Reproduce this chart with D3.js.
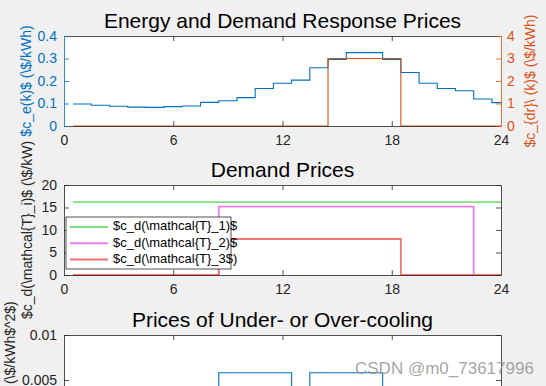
<!DOCTYPE html>
<html>
<head>
<meta charset="utf-8">
<script src="https://cdn.jsdelivr.net/npm/d3@7"></script>
<style>
  html, body { margin: 0; padding: 0; background: #f0f0f0; overflow: hidden; }
  svg { display: block; font-family: "Liberation Sans", Arial, sans-serif; }
</style>
</head>
<body>
<div id="vis"></div>
<script>
// data (hourly stairs, each step starts at the half hour)
const HOURS = [0.5, 1.5, 2.5, 3.5, 4.5, 5.5, 6.5, 7.5, 8.5, 9.5, 10.5, 11.5,
               12.5, 13.5, 14.5, 15.5, 16.5, 17.5, 18.5, 19.5, 20.5, 21.5, 22.5, 23.5];
const X_TICKS = [0, 6, 12, 18, 24];

const ENERGY_PRICE = [0.098, 0.092, 0.088, 0.084, 0.083, 0.086, 0.089, 0.105, 0.112, 0.126, 0.167, 0.190,
                      0.204, 0.259, 0.296, 0.326, 0.326, 0.296, 0.238, 0.190, 0.167, 0.157, 0.120, 0.104];
const DR_PRICE = [0, 0, 0, 0, 0, 0, 0, 0, 0, 0, 0, 0,
                  0, 0, 3, 3, 3, 3, 0, 0, 0, 0, 0, 0];

const DEMAND_T1 = [16.2, 16.2, 16.2, 16.2, 16.2, 16.2, 16.2, 16.2, 16.2, 16.2, 16.2, 16.2,
                   16.2, 16.2, 16.2, 16.2, 16.2, 16.2, 16.2, 16.2, 16.2, 16.2, 16.2, 16.2];
const DEMAND_T2 = [0, 0, 0, 0, 0, 0, 0, 0, 15.2, 15.2, 15.2, 15.2,
                   15.2, 15.2, 15.2, 15.2, 15.2, 15.2, 15.2, 15.2, 15.2, 15.2, 0, 0];
const DEMAND_T3 = [0, 0, 0, 0, 0, 0, 0, 0, 8.0, 8.0, 8.0, 8.0,
                   8.0, 8.0, 8.0, 8.0, 8.0, 8.0, 0, 0, 0, 0, 0, 0];

const COOLING_PRICE = [0, 0, 0, 0, 0, 0, 0, 0, 0.0058, 0.0058, 0.0058, 0.0058,
                       0, 0.0058, 0.0058, 0.0058, 0.0058, 0, 0, 0, 0, 0, 0, 0];

const TOP_LEFT_TICKS = [0, 0.1, 0.2, 0.3, 0.4];
const TOP_RIGHT_TICKS = [0, 1, 2, 3, 4];
const MID_TICKS = [0, 5, 10, 15, 20];
const BOTTOM_TICKS = [0.005, 0.01];   // the 0 tick falls below the visible window

const TITLES = ["Energy and Demand Response Prices", "Demand Prices", "Prices of Under- or Over-cooling"];
const Y_LABELS = ["$c_e(k)$ (\\$/kWh)", "$c_d(\\mathcal{T}_i)$ (\\$/kW)", "$c_{uc}(k)$ (\\$/kWh$^2$)"];
const Y2_LABEL = "$c_{dr}\\ (k)$ (\\$/kWh)";
const LEGEND_LABELS = ["$c_d(\\mathcal{T}_1)$", "$c_d(\\mathcal{T}_2)$", "$c_d(\\mathcal{T}_3$)"];

// layout
const FRAME_WIDTH = 546;
const FRAME_HEIGHT = 386;
const PLOT_LEFT = 64;
const PLOT_RIGHT = 501;
const PLOT_H = 90;
const PANEL_TOPS = [36, 185, 335];

const BLUE = "#0072BD";
const ORANGE = "#D95319";
const AXIS_COLOR = "#262626";
const DEMAND_COLORS = ["#7ee07e", "#ea80ea", "#f07272"];

const SVG = d3.select("#vis")
  .append("svg")
    .attr("width", FRAME_WIDTH)
    .attr("height", FRAME_HEIGHT);

SVG.append("rect")
  .attr("width", FRAME_WIDTH)
  .attr("height", FRAME_HEIGHT)
  .attr("fill", "#f0f0f0");

const X_SCALE = d3.scaleLinear()
  .domain([0, 24])
  .range([PLOT_LEFT, PLOT_RIGHT]);

function stairs(vals) {
  const pts = HOURS.map((h, i) => [h, vals[i]]);
  pts.push([24, vals[vals.length - 1]]);
  return pts;
}

function styleAxis(g, color, textColor) {
  g.selectAll(".domain").attr("stroke", color).attr("stroke-width", 0.8);
  g.selectAll(".tick line").attr("stroke", color).attr("stroke-width", 0.8);
  g.selectAll(".tick text")
    .attr("fill", textColor)
    .attr("font-size", "14px")
    .attr("font-family", "Liberation Sans, Arial, sans-serif");
}

// draws one panel frame with x axes; returns the y scale and group
function panel(idx, yDomain, yTicks, leftColor, labelX, showXLabels) {
  const top = PANEL_TOPS[idx];
  const y = d3.scaleLinear().domain(yDomain).range([top + PLOT_H, top]);
  const g = SVG.append("g");

  g.append("rect")
    .attr("x", PLOT_LEFT)
    .attr("y", top)
    .attr("width", PLOT_RIGHT - PLOT_LEFT)
    .attr("height", PLOT_H)
    .attr("fill", "white");

  const lines = g.append("g");

  // x axes, ticks inward
  const xAxis = d3.axisBottom(X_SCALE).tickValues(X_TICKS).tickSize(-5).tickSizeOuter(0).tickPadding(9);
  if (!showXLabels) xAxis.tickFormat("");
  const xb = g.append("g")
    .attr("transform", "translate(0," + (top + PLOT_H) + ")")
    .call(xAxis);
  styleAxis(xb, AXIS_COLOR, AXIS_COLOR);
  const xt = g.append("g")
    .attr("transform", "translate(0," + top + ")")
    .call(d3.axisTop(X_SCALE).tickValues(X_TICKS).tickSize(-5).tickSizeOuter(0).tickFormat(""));
  styleAxis(xt, AXIS_COLOR, AXIS_COLOR);
  xt.selectAll(".tick").filter(d => d === 0 || d === 24).remove();
  xb.selectAll(".tick line").filter(d => d === 0 || d === 24).remove();

  // left axis
  const yl = g.append("g")
    .attr("transform", "translate(" + PLOT_LEFT + ",0)")
    .call(d3.axisLeft(y).tickValues(yTicks).tickSize(-5).tickSizeOuter(0).tickPadding(7)
      .tickFormat(d => String(d)));
  styleAxis(yl, leftColor, leftColor);

  // title
  SVG.append("text")
    .attr("x", (PLOT_LEFT + PLOT_RIGHT) / 2)
    .attr("y", top - 8)
    .attr("text-anchor", "middle")
    .attr("font-size", "21px")
    .attr("fill", "#000")
    .text(TITLES[idx]);

  // y label
  SVG.append("text")
    .attr("transform", "translate(" + labelX + "," + (top + PLOT_H / 2) + ") rotate(-90)")
    .attr("text-anchor", "middle")
    .attr("dominant-baseline", "middle")
    .attr("font-size", "14px")
    .attr("fill", leftColor)
    .text(Y_LABELS[idx]);

  return {y: y, g: g, lines: lines, top: top};
}

// ---- panel 1: energy and DR prices
const P1 = panel(0, [0, 0.4], TOP_LEFT_TICKS, BLUE, 27, true);
const Y_RIGHT = d3.scaleLinear().domain([0, 4]).range([P1.top + PLOT_H, P1.top]);

P1.lines.append("path")
  .datum(stairs(ENERGY_PRICE))
  .attr("fill", "none")
  .attr("stroke", BLUE)
  .attr("stroke-width", 1.1)
  .attr("d", d3.line().x(d => X_SCALE(d[0])).y(d => P1.y(d[1])).curve(d3.curveStepAfter));

P1.lines.append("path")
  .datum(stairs(DR_PRICE))
  .attr("fill", "none")
  .attr("stroke", ORANGE)
  .attr("stroke-width", 1.1)
  .attr("d", d3.line().x(d => X_SCALE(d[0])).y(d => Y_RIGHT(d[1])).curve(d3.curveStepAfter));

const yr = P1.g.append("g")
  .attr("transform", "translate(" + PLOT_RIGHT + ",0)")
  .call(d3.axisRight(Y_RIGHT).tickValues(TOP_RIGHT_TICKS).tickSize(-5).tickSizeOuter(0).tickPadding(6)
    .tickFormat(d => String(d)));
styleAxis(yr, ORANGE, ORANGE);

SVG.append("text")
  .attr("transform", "translate(531," + (P1.top + PLOT_H / 2) + ") rotate(-90)")
  .attr("text-anchor", "middle")
  .attr("dominant-baseline", "middle")
  .attr("font-size", "14px")
  .attr("fill", ORANGE)
  .text(Y2_LABEL);

// ---- panel 2: demand prices
const P2 = panel(1, [0, 20], MID_TICKS, AXIS_COLOR, 28, true);
const yr2 = P2.g.append("g")
  .attr("transform", "translate(" + PLOT_RIGHT + ",0)")
  .call(d3.axisRight(P2.y).tickValues(MID_TICKS).tickSize(-5).tickSizeOuter(0).tickFormat(""));
styleAxis(yr2, AXIS_COLOR, AXIS_COLOR);

[DEMAND_T1, DEMAND_T2, DEMAND_T3].forEach((vals, i) => {
  P2.lines.append("path")
    .datum(stairs(vals))
    .attr("fill", "none")
    .attr("stroke", DEMAND_COLORS[i])
    .attr("stroke-width", 1.8)
    .attr("d", d3.line().x(d => X_SCALE(d[0])).y(d => P2.y(d[1])).curve(d3.curveStepAfter));
});

// legend
const LEG = SVG.append("g").attr("transform", "translate(66,217)");
LEG.append("rect")
  .attr("width", 165)
  .attr("height", 52)
  .attr("fill", "white")
  .attr("stroke", AXIS_COLOR)
  .attr("stroke-width", 0.8);
LEGEND_LABELS.forEach((lab, i) => {
  const cy = 10 + i * 16.2;
  LEG.append("line")
    .attr("x1", 4).attr("x2", 42)
    .attr("y1", cy).attr("y2", cy)
    .attr("stroke", DEMAND_COLORS[i])
    .attr("stroke-width", 2);
  LEG.append("text")
    .attr("x", 47)
    .attr("y", cy)
    .attr("dominant-baseline", "middle")
    .attr("font-size", "13px")
    .attr("fill", "#000")
    .text(lab);
});

// ---- panel 3: under/over-cooling prices (lower part lies outside the window)
const P3 = panel(2, [0, 0.01], BOTTOM_TICKS, AXIS_COLOR, 11, false);
const yr3 = P3.g.append("g")
  .attr("transform", "translate(" + PLOT_RIGHT + ",0)")
  .call(d3.axisRight(P3.y).tickValues(BOTTOM_TICKS).tickSize(-5).tickSizeOuter(0).tickFormat(""));
styleAxis(yr3, AXIS_COLOR, AXIS_COLOR);

P3.lines.append("path")
  .datum(stairs(COOLING_PRICE))
  .attr("fill", "none")
  .attr("stroke", BLUE)
  .attr("stroke-width", 1.1)
  .attr("d", d3.line().x(d => X_SCALE(d[0])).y(d => P3.y(d[1])).curve(d3.curveStepAfter));

// watermark
SVG.append("text")
  .attr("x", 355)
  .attr("y", 374)
  .attr("font-size", "17px")
  .attr("fill", "#9a9a9a")
  .attr("fill-opacity", 0.9)
  .text("CSDN @m0_73617996");
</script>
</body>
</html>
